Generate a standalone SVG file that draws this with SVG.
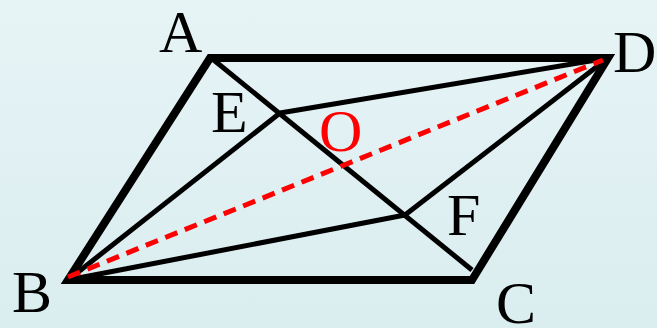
<svg xmlns="http://www.w3.org/2000/svg" width="657" height="328" viewBox="0 0 657 328">
<defs>
<linearGradient id="bg" x1="0" y1="0" x2="0" y2="1">
<stop offset="0" stop-color="#e7f4f6"/>
<stop offset="1" stop-color="#daedef"/>
</linearGradient>
</defs>
<style>
.lbl{font-family:"Liberation Serif","Times New Roman",serif;font-size:60px;fill:#000}
.red{fill:#ff0000}
.outer{fill:none;stroke:#000;stroke-width:8;stroke-linejoin:miter;stroke-miterlimit:20}
.inner{stroke:#000;stroke-width:5;stroke-linecap:butt}
.dash{stroke:#ff0000;stroke-width:5;stroke-dasharray:13 8}
</style>
<rect width="657" height="328" fill="url(#bg)"/>
<g id="connectors">
<polygon class="outer" points="210,58 608,58 472,280 68,280"/>
<line class="inner" x1="210" y1="57" x2="472" y2="270"/>
<line class="inner" x1="68" y1="280" x2="280" y2="113"/>
<line class="inner" x1="280" y1="113" x2="608" y2="58"/>
<line class="inner" x1="68" y1="280" x2="405" y2="215"/>
<line class="inner" x1="405" y1="215" x2="608" y2="58"/>
<line class="dash" x1="68" y1="277" x2="603" y2="60"/>
</g>
<g id="A"><text class="lbl" x="159" y="52">A</text></g>
<g id="D"><text class="lbl" x="613" y="72">D</text></g>
<g id="B"><text class="lbl" x="12" y="312">B</text></g>
<g id="C"><text class="lbl" x="496" y="323">C</text></g>
<g id="E"><text class="lbl" x="211" y="132">E</text></g>
<g id="F"><text class="lbl" x="447" y="235">F</text></g>
<g id="O"><text class="lbl red" x="319" y="151">O</text></g>
</svg>
